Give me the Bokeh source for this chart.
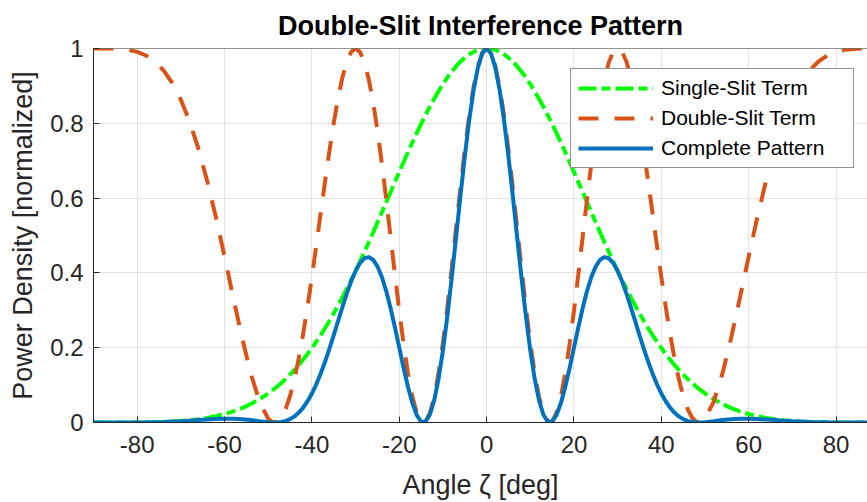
from bokeh.plotting import figure
from bokeh.models import Range1d, FixedTicker, NumeralTickFormatter, Span
from bokeh.embed import file_html
from bokeh.resources import INLINE

# Angle in degrees (sample positions)
angle = list(range(-90, -50, 2)) + list(range(-50, 51)) + list(range(52, 91, 2))

single_slit = [
    0.0, 0.0, 0.0, 0.0, 0.0001, 0.0002, 0.0005, 0.0009, 0.0016, 0.0026,
    0.0041, 0.0061, 0.0087, 0.0123, 0.0168, 0.0226, 0.0297, 0.0386, 0.0494, 0.0623,
    0.0776, 0.0863, 0.0957, 0.1058, 0.1166, 0.1283, 0.1408, 0.1541, 0.1682, 0.1832,
    0.1991, 0.2159, 0.2335, 0.2521, 0.2715, 0.2918, 0.3129, 0.3349, 0.3576, 0.3811,
    0.4053, 0.4301, 0.4555, 0.4814, 0.5077, 0.5344, 0.5614, 0.5885, 0.6157, 0.6428,
    0.6698, 0.6965, 0.7228, 0.7486, 0.7737, 0.7982, 0.8217, 0.8442, 0.8656, 0.8858,
    0.9047, 0.9220, 0.9379, 0.9521, 0.9646, 0.9753, 0.9841, 0.9910, 0.9960, 0.9990,
    1.0,
    0.9990, 0.9960, 0.9910, 0.9841, 0.9753, 0.9646, 0.9521, 0.9379, 0.9220, 0.9047,
    0.8858, 0.8656, 0.8442, 0.8217, 0.7982, 0.7737, 0.7486, 0.7228, 0.6965, 0.6698,
    0.6428, 0.6157, 0.5885, 0.5614, 0.5344, 0.5077, 0.4814, 0.4555, 0.4301, 0.4053,
    0.3811, 0.3576, 0.3349, 0.3129, 0.2918, 0.2715, 0.2521, 0.2335, 0.2159, 0.1991,
    0.1832, 0.1682, 0.1541, 0.1408, 0.1283, 0.1166, 0.1058, 0.0957, 0.0863, 0.0776,
    0.0623, 0.0494, 0.0386, 0.0297, 0.0226, 0.0168, 0.0123, 0.0087, 0.0061, 0.0041,
    0.0026, 0.0016, 0.0009, 0.0005, 0.0002, 0.0001, 0.0, 0.0, 0.0, 0.0,
]

double_slit = [
    1.0, 1.0, 0.9998, 0.9988, 0.9963, 0.9909, 0.9813, 0.9656, 0.9419, 0.9084,
    0.8632, 0.8049, 0.7328, 0.6473, 0.5498, 0.4437, 0.3339, 0.2270, 0.1313, 0.0560,
    0.0101, 0.0009, 0.0019, 0.0137, 0.0367, 0.0709, 0.1161, 0.1717, 0.2367, 0.3098,
    0.3892, 0.4729, 0.5585, 0.6436, 0.7254, 0.8011, 0.8679, 0.9234, 0.9651, 0.9911,
    1.0, 0.9909, 0.9637, 0.9187, 0.8574, 0.7817, 0.6942, 0.5982, 0.4975, 0.3963,
    0.2987, 0.2090, 0.1313, 0.0692, 0.0257, 0.0031, 0.0026, 0.0246, 0.0683, 0.1321,
    0.2130, 0.3076, 0.4113, 0.5197, 0.6272, 0.7289, 0.8199, 0.8957, 0.9527, 0.9880,
    1.0,
    0.9880, 0.9527, 0.8957, 0.8199, 0.7289, 0.6272, 0.5197, 0.4113, 0.3076, 0.2130,
    0.1321, 0.0683, 0.0246, 0.0026, 0.0031, 0.0257, 0.0692, 0.1313, 0.2090, 0.2987,
    0.3963, 0.4975, 0.5982, 0.6942, 0.7817, 0.8574, 0.9187, 0.9637, 0.9909, 1.0,
    0.9911, 0.9651, 0.9234, 0.8679, 0.8011, 0.7254, 0.6436, 0.5585, 0.4729, 0.3892,
    0.3098, 0.2367, 0.1717, 0.1161, 0.0709, 0.0367, 0.0137, 0.0019, 0.0009, 0.0101,
    0.0560, 0.1313, 0.2270, 0.3339, 0.4437, 0.5498, 0.6473, 0.7328, 0.8049, 0.8632,
    0.9084, 0.9419, 0.9656, 0.9813, 0.9909, 0.9963, 0.9988, 0.9998, 1.0, 1.0,
]

complete = [
    0.0, 0.0, 0.0, 0.0, 0.0001, 0.0002, 0.0005, 0.0009, 0.0015, 0.0024,
    0.0035, 0.0049, 0.0064, 0.0079, 0.0092, 0.0100, 0.0099, 0.0088, 0.0065, 0.0035,
    0.0008, 0.0001, 0.0002, 0.0014, 0.0043, 0.0091, 0.0163, 0.0265, 0.0398, 0.0568,
    0.0775, 0.1021, 0.1304, 0.1623, 0.1970, 0.2338, 0.2716, 0.3092, 0.3451, 0.3777,
    0.4053, 0.4262, 0.4389, 0.4423, 0.4353, 0.4177, 0.3897, 0.3520, 0.3063, 0.2547,
    0.2000, 0.1456, 0.0949, 0.0518, 0.0199, 0.0024, 0.0021, 0.0207, 0.0591, 0.1170,
    0.1927, 0.2836, 0.3858, 0.4948, 0.6050, 0.7109, 0.8068, 0.8877, 0.9489, 0.9870,
    1.0,
    0.9870, 0.9489, 0.8877, 0.8068, 0.7109, 0.6050, 0.4948, 0.3858, 0.2836, 0.1927,
    0.1170, 0.0591, 0.0207, 0.0021, 0.0024, 0.0199, 0.0518, 0.0949, 0.1456, 0.2000,
    0.2547, 0.3063, 0.3520, 0.3897, 0.4177, 0.4353, 0.4423, 0.4389, 0.4262, 0.4053,
    0.3777, 0.3451, 0.3092, 0.2716, 0.2338, 0.1970, 0.1623, 0.1304, 0.1021, 0.0775,
    0.0568, 0.0398, 0.0265, 0.0163, 0.0091, 0.0043, 0.0014, 0.0002, 0.0001, 0.0008,
    0.0035, 0.0065, 0.0088, 0.0099, 0.0100, 0.0092, 0.0079, 0.0064, 0.0049, 0.0035,
    0.0024, 0.0015, 0.0009, 0.0005, 0.0002, 0.0001, 0.0, 0.0, 0.0, 0.0,
]

x_ticks = [-80, -60, -40, -20, 0, 20, 40, 60, 80]
y_ticks = [0, 0.2, 0.4, 0.6, 0.8, 1]

FONT = "Liberation Sans"
AX = "#262626"

p = figure(width=867, height=502, output_backend="svg", toolbar_location=None,
           x_range=Range1d(-90, 87.2), y_range=Range1d(0, 1),
           min_border_left=93, min_border_right=0, min_border_top=47, min_border_bottom=79,
           title="Double-Slit Interference Pattern")

xb = p.xaxis[0]
yl = p.yaxis[0]

p.background_fill_color = "white"
p.border_fill_color = "white"
p.outline_line_color = None

p.title.text_font = FONT
p.title.text_font_size = "27px"
p.title.text_font_style = "bold"
p.title.text_color = "black"
p.title.align = "center"
p.title.standoff = 16

# top border of the axes box
p.add_layout(Span(location=1, dimension="width", line_color=AX, line_width=1))

xb.ticker = FixedTicker(ticks=x_ticks)
xb.formatter = NumeralTickFormatter(format="0")
yl.ticker = FixedTicker(ticks=y_ticks)
yl.formatter = NumeralTickFormatter(format="0.[0]")
p.xgrid.ticker = FixedTicker(ticks=x_ticks)
p.ygrid.ticker = FixedTicker(ticks=y_ticks)
p.xgrid.grid_line_color = "#e3e3e3"
p.ygrid.grid_line_color = "#e3e3e3"

for ax in [xb, yl]:
    ax.axis_line_color = AX
    ax.axis_line_width = 1
    ax.major_tick_in = 6
    ax.major_tick_out = 0
    ax.minor_tick_in = 0
    ax.minor_tick_out = 0
    ax.major_tick_line_color = AX
    ax.major_label_text_color = AX
    ax.major_label_text_font = FONT
    ax.major_label_text_font_size = "24px"
    ax.axis_label_text_font = FONT
    ax.axis_label_text_font_size = "27px"
    ax.axis_label_text_font_style = "normal"
    ax.axis_label_text_color = AX

xb.axis_label = "Angle ζ [deg]"
yl.axis_label = "Power Density [normalized]"
xb.major_label_standoff = 13
xb.axis_label_standoff = 14
yl.major_label_standoff = 10
yl.axis_label_standoff = 9

p.line(angle, single_slit, line_color="#00FF00", line_width=4, line_dash="18 5 9 5",
       legend_label="Single-Slit Term")
p.line(angle, double_slit, line_color="#D95319", line_width=4, line_dash="20 16",
       legend_label="Double-Slit Term")
p.line(angle, complete, line_color="#0072BD", line_width=4,
       legend_label="Complete Pattern")

lg = p.legend[0]
lg.location = (477, 254)
lg.border_line_color = AX
lg.border_line_width = 1
lg.background_fill_color = "white"
lg.background_fill_alpha = 1
lg.label_text_font = FONT
lg.label_text_font_size = "21px"
lg.label_text_color = "black"
lg.glyph_width = 75
lg.glyph_height = 24
lg.label_height = 24
lg.label_width = 185
lg.spacing = 6
lg.padding = 7
lg.margin = 0
lg.label_standoff = 8

open("out.html", "w").write(file_html(p, INLINE))
